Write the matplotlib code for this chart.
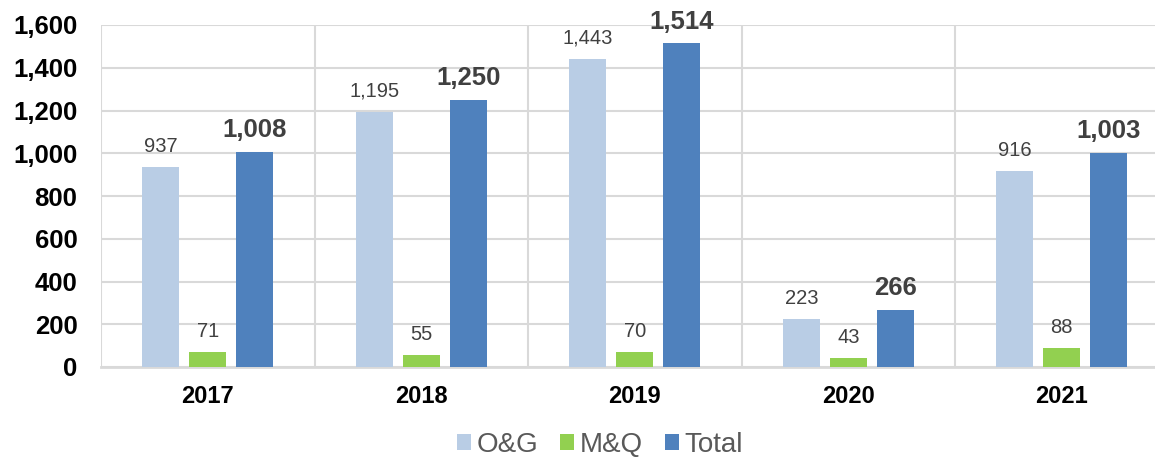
import numpy as np
import matplotlib.pyplot as plt
from matplotlib.ticker import FuncFormatter

years = ['2017', '2018', '2019', '2020', '2021']
og = [937, 1195, 1443, 223, 916]
mq = [71, 55, 70, 43, 88]
total = [1008, 1250, 1514, 266, 1003]

plt.rcParams['font.family'] = ['Liberation Sans', 'DejaVu Sans']

fig = plt.figure(figsize=(11.55, 4.57), dpi=100)
ax = fig.add_axes([101/1155, 1-367/457, 5*213.5/1155, (367-25)/457])

x = np.arange(len(years))
w = 0.173
step = 0.22
b1 = ax.bar(x-step, og, w, color='#B9CDE5', label='O&G', zorder=3)
b2 = ax.bar(x, mq, w, color='#92D050', label='M&Q', zorder=3)
b3 = ax.bar(x+step, total, w, color='#4F81BD', label='Total', zorder=3)

for bars, vals, bold in [(b1, og, False), (b2, mq, False), (b3, total, True)]:
    for r, v in zip(bars, vals):
        ax.annotate(f'{v:,}', (r.get_x()+r.get_width()/2, v),
                    xytext=(0, 7 if bold else 8), textcoords='offset points',
                    ha='center', va='bottom', color='#404040',
                    fontsize=18.5 if bold else 14.5,
                    fontweight='bold' if bold else 'normal')

ax.set_xlim(-0.5, len(years)-0.5)
ax.set_ylim(0, 1600)
ax.set_yticks(range(0, 1601, 200))
ax.yaxis.set_major_formatter(FuncFormatter(lambda v, p: f'{int(v):,}'))
ax.set_xticks(x)
ax.set_xticklabels(years)
ax.set_xticks(np.arange(-0.5, len(years)), minor=True)
ax.tick_params(axis='y', length=0, pad=17, labelsize=18.5)
ax.tick_params(axis='x', which='both', length=0, pad=13, labelsize=17)
for t in ax.get_yticklabels() + ax.get_xticklabels():
    t.set_fontweight('bold')

ax.grid(axis='y', color='#D9D9D9', lw=1.5, zorder=0)
ax.grid(axis='x', which='minor', color='#D9D9D9', lw=1.5, zorder=0)
ax.grid(axis='x', which='major', visible=False)
for s in ['top', 'right', 'left']:
    ax.spines[s].set_visible(False)
ax.spines['bottom'].set_color('#D9D9D9')
ax.spines['bottom'].set_linewidth(2)

fig.legend(handles=[b1, b2, b3], loc='center', bbox_to_anchor=(600/1155, 1-445/457),
           ncol=3, frameon=False, fontsize=20, labelcolor='#595959',
           handlelength=0.5, handleheight=0.5, handletextpad=0.2, columnspacing=0.8)

fig.savefig('out.png', dpi=100)
